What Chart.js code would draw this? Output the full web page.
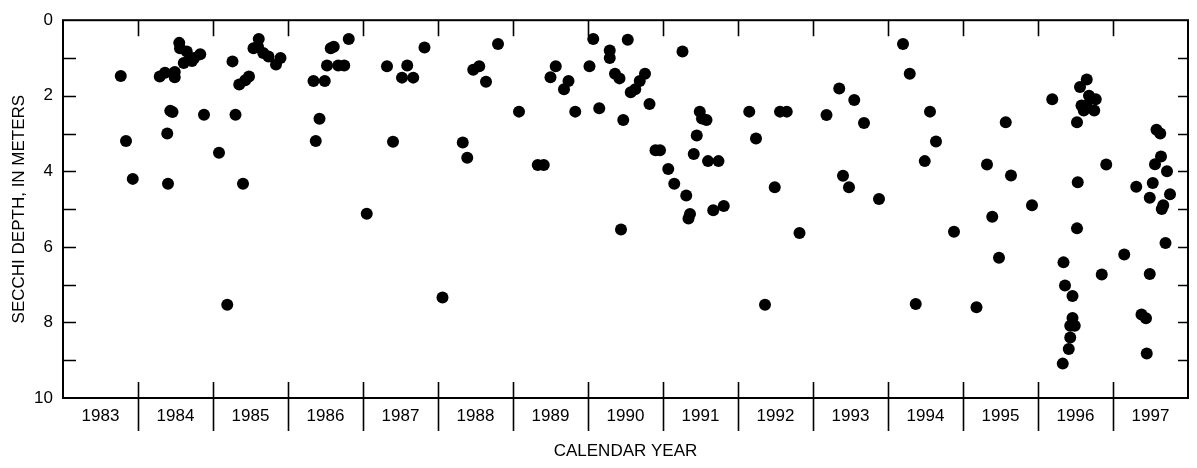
<!DOCTYPE html>
<html>
<head>
<meta charset="utf-8">
<script src="https://cdn.jsdelivr.net/npm/chart.js@4/dist/chart.umd.min.js"></script>
<style>
  html, body { margin: 0; padding: 0; background: #fff; }
  #wrap { width: 1197px; height: 468px; }
</style>
</head>
<body>
<div id="wrap"><canvas id="c" width="1197" height="468"></canvas></div>
<script>
// Secchi depth observations (decimal calendar year, depth in meters)
const years1983to1987 = [
  1983.77, 1983.84, 1983.93, 1984.29, 1984.36, 1984.49, 1984.49, 1984.39, 1984.40, 1984.43,
  1984.46, 1984.55, 1984.56, 1984.65, 1984.61, 1984.69, 1984.75, 1984.83, 1984.72, 1984.88,
  1985.08, 1985.19, 1985.26, 1985.30, 1985.40, 1985.35, 1985.43, 1985.48, 1985.61, 1985.54,
  1985.60, 1985.67, 1985.74, 1985.84, 1985.90, 1986.34, 1986.42, 1986.37, 1986.49, 1986.52,
  1986.57, 1986.61, 1986.67, 1986.75, 1986.81, 1987.05, 1987.32, 1987.40, 1987.52, 1987.59,
  1987.67, 1987.82
];
const depths1983to1987 = [
  1.48, 3.20, 4.20, 1.49, 1.39, 1.37, 1.51, 3.00, 4.33, 2.40,
  2.43, 0.60, 0.74, 0.83, 1.13, 1.04, 1.00, 0.90, 1.08, 2.50,
  3.51, 7.53, 1.09, 2.50, 4.33, 1.70, 1.59, 1.49, 0.50, 0.74,
  0.70, 0.87, 0.96, 1.17, 1.00, 1.61, 2.61, 3.20, 1.61, 1.20,
  0.74, 0.70, 1.20, 1.20, 0.50, 5.12, 1.22, 3.22, 1.52, 1.20,
  1.52, 0.72
];

const years1988to1992 = [
  1988.06, 1988.33, 1988.39, 1988.47, 1988.55, 1988.64, 1988.80, 1989.08, 1989.33, 1989.41,
  1989.50, 1989.57, 1989.68, 1989.74, 1989.83, 1990.07, 1990.02, 1990.15, 1990.29, 1990.29,
  1990.36, 1990.42, 1990.53, 1990.47, 1990.44, 1990.57, 1990.63, 1990.69, 1990.76, 1990.82,
  1990.90, 1990.96, 1991.07, 1991.15, 1991.31, 1991.26, 1991.36, 1991.34, 1991.41, 1991.45,
  1991.49, 1991.52, 1991.58, 1991.60, 1991.74, 1991.67, 1991.81, 1992.15, 1992.24, 1992.36,
  1992.49, 1992.56, 1992.65, 1992.82
];
const depths1988to1992 = [
  7.34, 3.24, 3.64, 1.31, 1.22, 1.63, 0.63, 2.42, 3.83, 3.83,
  1.51, 1.22, 1.83, 1.61, 2.42, 0.50, 1.22, 2.33, 0.80, 1.00,
  1.42, 1.54, 0.52, 2.64, 5.54, 1.91, 1.83, 1.61, 1.42, 2.22,
  3.44, 3.44, 3.94, 4.33, 4.64, 0.83, 5.13, 5.25, 3.54, 3.05,
  2.42, 2.60, 2.64, 3.73, 3.73, 5.03, 4.92, 2.42, 3.13, 7.53,
  4.42, 2.42, 2.42, 5.63
];

const years1993to1997 = [
  1993.18, 1993.35, 1993.55, 1993.68, 1993.40, 1993.48, 1993.88, 1994.20, 1994.29, 1994.56,
  1994.64, 1994.49, 1994.37, 1994.88, 1995.18, 1995.32, 1995.39, 1995.48, 1995.57, 1995.64,
  1995.92, 1996.19, 1996.65, 1996.56, 1996.68, 1996.77, 1996.58, 1996.65, 1996.75, 1996.61,
  1996.52, 1996.53, 1996.52, 1996.34, 1996.36, 1996.46, 1996.46, 1996.43, 1996.49, 1996.43,
  1996.41, 1996.33, 1996.91, 1996.85, 1997.15, 1997.58, 1997.63, 1997.64, 1997.56, 1997.72,
  1997.31, 1997.53, 1997.49, 1997.76, 1997.67, 1997.65, 1997.70, 1997.49, 1997.38, 1997.44,
  1997.45
];
const depths1993to1997 = [
  2.51, 1.81, 2.11, 2.72, 4.12, 4.42, 4.73, 0.63, 1.42, 2.42,
  3.21, 3.73, 7.51, 5.60, 7.60, 3.82, 5.20, 6.29, 2.70, 4.11,
  4.90, 2.09, 1.57, 1.77, 2.00, 2.09, 2.26, 2.26, 2.39, 2.39,
  2.70, 4.29, 5.51, 6.41, 7.02, 7.30, 7.88, 8.09, 8.09, 8.40,
  8.70, 9.09, 3.82, 6.73, 6.20, 2.90, 3.00, 3.61, 3.81, 4.00,
  4.41, 4.31, 4.70, 4.61, 4.90, 5.00, 5.90, 6.72, 7.79, 7.89,
  8.82
];

// Axis labelling
const yearLabels = [1983, 1984, 1985, 1986, 1987, 1988, 1989, 1990,
                    1991, 1992, 1993, 1994, 1995, 1996, 1997];
const depthTicks = [0, 2, 4, 6, 8, 10];

function toPoints(xs, ys) {
  return xs.map((x, i) => ({ x: x, y: ys[i] }));
}
const points = [].concat(
  toPoints(years1983to1987, depths1983to1987),
  toPoints(years1988to1992, depths1988to1992),
  toPoints(years1993to1997, depths1993to1997)
);

// Frame and tick marks (year boundaries cross the bottom axis; depth ticks point inward)
const framePlugin = {
  id: 'frame',
  afterDatasetsDraw(chart) {
    const { ctx, chartArea: a, scales: { x, y } } = chart;
    ctx.save();
    ctx.strokeStyle = '#000';
    ctx.lineWidth = 2;
    ctx.strokeRect(a.left, a.top, a.right - a.left, a.bottom - a.top);
    ctx.lineWidth = 1.6;
    ctx.beginPath();
    for (let yr = yearLabels[0] + 1; yr <= yearLabels[yearLabels.length - 1]; yr++) {
      const px = Math.round(x.getPixelForValue(yr)) + 0.5;
      ctx.moveTo(px, a.bottom - 16);
      ctx.lineTo(px, a.bottom + 33);
      ctx.moveTo(px, a.top);
      ctx.lineTo(px, a.top + 16);
    }
    for (let d = 1; d < 10; d++) {
      const py = Math.round(y.getPixelForValue(d)) + 0.5;
      ctx.moveTo(a.left, py);
      ctx.lineTo(a.left + 13, py);
      ctx.moveTo(a.right, py);
      ctx.lineTo(a.right - 10, py);
    }
    ctx.stroke();
    ctx.restore();
  }
};

const fontFamily = '"Liberation Sans", Arial, Helvetica, sans-serif';

new Chart(document.getElementById('c'), {
  type: 'scatter',
  data: {
    datasets: [{
      data: points,
      backgroundColor: '#000',
      borderWidth: 0,
      pointRadius: 6,
      pointHoverRadius: 6
    }]
  },
  options: {
    responsive: false,
    animation: false,
    events: [],
    layout: { padding: { left: 0, top: 15, right: 9, bottom: 0 } },
    plugins: { legend: { display: false }, tooltip: { enabled: false } },
    scales: {
      x: {
        type: 'linear',
        position: 'bottom',
        min: 1983,
        max: 1998,
        grid: { display: false, drawTicks: false },
        border: { display: false },
        afterBuildTicks(scale) {
          scale.ticks = yearLabels.map(v => ({ value: v + 0.5 }));
        },
        afterFit(scale) { scale.height = 70; },
        ticks: {
          autoSkip: false,
          maxRotation: 0,
          padding: 8,
          color: '#000',
          font: { family: fontFamily, size: 17 },
          callback: v => String(Math.floor(v))
        },
        title: {
          display: true,
          text: 'CALENDAR YEAR',
          color: '#000',
          font: { family: fontFamily, size: 17 },
          padding: { top: 0, bottom: 6 }
        }
      },
      y: {
        type: 'linear',
        reverse: true,
        min: 0,
        max: 10,
        grid: { display: false, drawTicks: false },
        border: { display: false },
        afterBuildTicks(scale) {
          scale.ticks = depthTicks.map(v => ({ value: v }));
        },
        afterFit(scale) { scale.width = 63; },
        ticks: {
          padding: 10,
          color: '#000',
          font: { family: fontFamily, size: 17 },
          callback: v => String(v)
        },
        title: {
          display: true,
          text: 'SECCHI DEPTH, IN METERS',
          color: '#000',
          font: { family: fontFamily, size: 17 },
          padding: { top: 9, bottom: 0 }
        }
      }
    }
  },
  plugins: [framePlugin]
});
</script>
</body>
</html>
